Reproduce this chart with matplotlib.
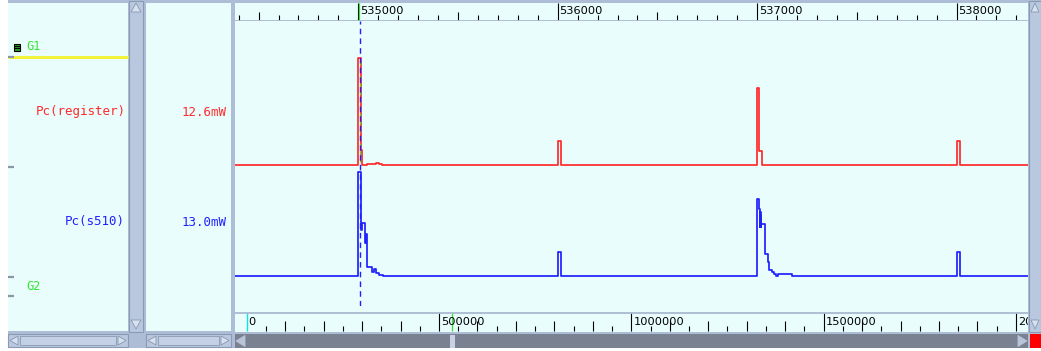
import matplotlib
matplotlib.use("Agg")
import matplotlib.pyplot as plt
import numpy as np
from matplotlib.patches import Rectangle, Polygon

W, H = 1041, 351

# ── Power traces: time (ns) / power (mW), step data ──────────────────────────
red_t = [534376, 534997, 535012, 535019, 535045, 535089, 535105, 535117,
         536000, 536015,
         537000, 537011, 537025, 537060, 537107, 537116, 537183,
         538001, 538016, 538358]
red_mw = [0.0, 12.6, 1.82, 0.0, 0.14, 0.26, 0.14, 0.0,
          2.91, 0.0,
          9.14, 1.70, 0.0, 0.09, 0.0, 0.09, 0.0,
          2.91, 0.0, 0.0]

blue_t = [534376, 534997, 535012, 535014, 535017, 535034, 535037, 535045,
          535067, 535080, 535089, 535105, 535122,
          536000, 536015,
          536999, 537002, 537008, 537012, 537014, 537016, 537018, 537020,
          537022, 537039, 537054, 537062, 537075, 537084, 537095, 537105, 537175,
          538001, 538016, 538358]
blue_mw = [0.0, 13.0, 7.84, 5.73, 6.58, 4.06, 5.19, 1.11,
           0.48, 0.78, 0.28, 0.05, 0.0,
           2.96, 0.0,
           9.30, 9.64, 9.30, 8.38, 6.11, 8.0, 6.11, 7.5,
           6.45, 2.67, 1.74, 0.69, 0.40, 0.19, 0.0, 0.15, 0.0,
           2.96, 0.0, 0.0]

signal_names = ["Pc(register)", "Pc(s510)"]
group_names = ["G1", "G2"]
cursor_t = 535009

top_major = [535000, 536000, 537000, 538000]
bottom_major = [0, 500000, 1000000, 1500000, 2000000]

# ── colours ──────────────────────────────────────────────────────────────────
BG = "#eafdfd"
FRAME = "#aebdd6"
SCROLL = "#b9c7df"
DARK = "#7a8292"
RED = "#ff2a2a"
BLUE = "#2020ff"
GREEN = "#2ee82e"
MONO = "DejaVu Sans Mono"

fig = plt.figure(figsize=(W / 100, H / 100), dpi=100)
fig.patch.set_facecolor(FRAME)


def px_axes(x0, y0, x1, y1):
    ax = fig.add_axes([x0 / W, 1 - y1 / H, (x1 - x0) / W, (y1 - y0) / H])
    ax.patch.set_alpha(0)
    ax.axis("off")
    return ax


# ── window chrome in pixel coordinates ───────────────────────────────────────
ui = px_axes(0, 0, W, H)
ui.set_xlim(0, W)
ui.set_ylim(H, 0)


def rect(x0, y0, x1, y1, fc, ec="none", lw=0):
    ui.add_patch(Rectangle((x0, y0), x1 - x0, y1 - y0, fc=fc, ec=ec, lw=lw))


def tri(pts, fc="#d6e0ee", ec="#8898b2"):
    ui.add_patch(Polygon(pts, closed=True, fc=fc, ec=ec, lw=0.6))


rect(0, 0, 7.5, H, "white")
rect(0, 347.5, W, H, "white")
# panels
rect(8, 2.5, 128, 331, BG)
rect(146, 2.5, 231, 331, BG)
rect(235, 2.5, 1028, 332, BG)
# vertical scrollbars
for x0, x1 in [(129, 143), (1029, 1041)]:
    rect(x0, 0.5, x1, 332, SCROLL, "#8a9ab4", 0.8)
    tri([(x0 + 2, 12), (x1 - 2, 12), ((x0 + x1) / 2, 3)])
    tri([(x0 + 2, 320), (x1 - 2, 320), ((x0 + x1) / 2, 329)])
# horizontal scrollbars
for x0, x1 in [(8, 128), (146, 231)]:
    rect(x0, 334, x1, 347, SCROLL, "#8a9ab4", 0.8)
    rect(x0 + 12, 336, x1 - 12, 345, "#c3d0e6", "#8a9ab4", 0.6)
    tri([(x0 + 10, 336), (x0 + 10, 345), (x0 + 2, 340.5)])
    tri([(x1 - 10, 336), (x1 - 10, 345), (x1 - 2, 340.5)])
rect(235, 334, 1028, 348, DARK)
tri([(245, 335.5), (245, 346.5), (236, 341)], fc="#b8c4d8", ec="#b8c4d8")
tri([(1018, 335.5), (1018, 346.5), (1027, 341)], fc="#b8c4d8", ec="#b8c4d8")
rect(450, 334.5, 455, 347.5, "#c8d2e2")
rect(1030, 334, 1041, 348, "#ff0000")

# group markers in the name panel
ui.plot([8, 128], [57, 57], color="#f2f23a", lw=2.2, solid_capstyle="butt")
for y in [57, 167, 277, 296]:
    ui.plot([8, 14], [y, y], color="#8a96a8", lw=1.6, solid_capstyle="butt")
rect(13.5, 43.5, 20, 50.5, "#2aa02a", "black", 0.8)
ui.plot([15, 18.5], [45.8, 45.8], color="black", lw=0.8)
ui.plot([15, 18.5], [48.2, 48.2], color="black", lw=0.8)
ui.text(26, 47, group_names[0], color=GREEN, fontsize=8.6, family=MONO, va="center")
ui.text(26, 287, group_names[1], color=GREEN, fontsize=8.6, family=MONO, va="center")

# ── time rulers ──────────────────────────────────────────────────────────────
ns_per_px = 1000 / 199.4
t_left = 535000 - (358.3 - 235) * ns_per_px
t_right = 535000 + (1028 - 358.3) * ns_per_px

top = px_axes(235, 2.5, 1028, 21)
top.set_xlim(t_left, t_right)
top.set_ylim(21, 2.5)
minor = np.arange(534400, 538400, 100)
small = [t for t in minor if t % 500 != 0]
mid = [t for t in minor if t % 500 == 0 and t % 1000 != 0]
top.vlines(small, 15, 20, color="black", lw=0.8)
top.vlines(mid, 11.5, 20, color="black", lw=0.8)
top.vlines(top_major, 2.5, 20, color="black", lw=0.8)
top.axhline(20.5, color="#a4b4cc", lw=1.2)
top.vlines([cursor_t - 5], 2.5, 20, color=GREEN, lw=0.9)
for t in top_major:
    top.text(t + 1.8 * ns_per_px, 11, str(t), fontsize=8.2, va="center",
             ha="left", clip_on=True)

bot_per_px = 500000 / 192.3
b_left = -(246.7 - 235) * bot_per_px
b_right = (1028 - 246.7) * bot_per_px
bot = px_axes(235, 312, 1028, 332)
bot.set_xlim(b_left, b_right)
bot.set_ylim(332, 312)
bticks = np.arange(50000, 2050000, 50000)
b_small = [t for t in bticks if t % 100000 != 0]
b_mid = [t for t in bticks if t % 100000 == 0 and t % 500000 != 0]
bot.vlines(b_small, 326.5, 331.5, color="black", lw=0.8)
bot.vlines(b_mid, 321.5, 331.5, color="black", lw=0.8)
bot.vlines(bottom_major[1:], 313, 331.5, color="black", lw=0.8)
bot.vlines([0], 313, 331.5, color="#10e0e8", lw=1.0)
bot.vlines([535000], 313, 331.5, color=GREEN, lw=0.9)
bot.axhline(313, color="#a4b4cc", lw=1.2)
for t in bottom_major:
    bot.text(t + 2 * bot_per_px, 322.5, str(t), fontsize=8.2, va="center",
             ha="left", clip_on=True)

# ── traces ───────────────────────────────────────────────────────────────────
def trace_axes(y_top, y_bot, base_px, full_px, full_val):
    ax = px_axes(235, y_top, 1028, y_bot)
    ax.set_xlim(t_left, t_right)
    scale = (base_px - full_px) / full_val
    ax.set_ylim((base_px - y_bot) / scale, (base_px - y_top) / scale)
    return ax


ax_r = trace_axes(40, 180, 165.5, 58.3, 12.6)
ax_b = trace_axes(150, 300, 275.5, 172.3, 13.0)

ax_r.step(red_t, red_mw, where="post", color=RED, lw=1.25)
ax_b.step(blue_t, blue_mw, where="post", color=BLUE, lw=1.25)
ax_r.vlines([cursor_t], 0.4, 12.3, color=GREEN, lw=0.9, linestyles=(0, (3, 3)))

cur = px_axes(235, 21, 1028, 306)
cur.set_xlim(t_left, t_right)
cur.set_ylim(0, 1)
cur.axvline(cursor_t, color=BLUE, lw=1.0, linestyle=(0, (4, 3)))

# ── names and values at cursor ───────────────────────────────────────────────
red_now = red_mw[np.searchsorted(red_t, cursor_t, side="right") - 1]
blue_now = blue_mw[np.searchsorted(blue_t, cursor_t, side="right") - 1]
ui.text(126, 112, signal_names[0], color=RED, fontsize=9.0, family=MONO,
        ha="right", va="center")
ui.text(125, 222, signal_names[1], color=BLUE, fontsize=9.0, family=MONO,
        ha="right", va="center")
ui.text(227, 112, f"{red_now:.1f}mW", color=RED, fontsize=9.0, family=MONO,
        ha="right", va="center")
ui.text(227, 222, f"{blue_now:.1f}mW", color=BLUE, fontsize=9.0, family=MONO,
        ha="right", va="center")

fig.savefig("out.png", dpi=100, facecolor=fig.get_facecolor())
